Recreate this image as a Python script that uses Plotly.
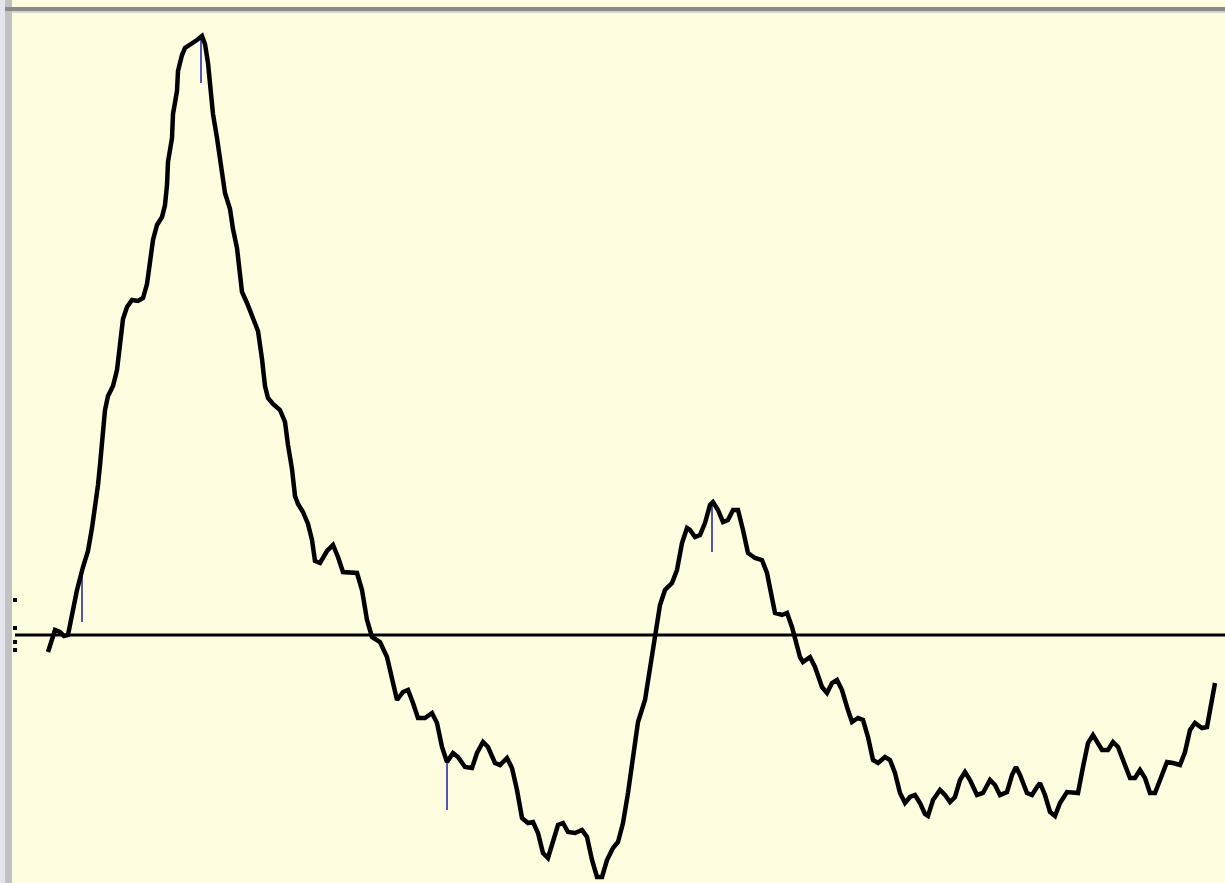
import plotly.graph_objects as go

# Horizontal sample position and signal level (zero = reference line)
x_pos = [48,52,55,60,64,68,73,77,83,88,92,95,98,100,102,105,108,113,117,120,123,127,132,138,143,147,150,153,157,162,165,167,168,172,173,177,178,182,185,192,197,202,205,208,210,213,217,220,222,225,230,233,237,240,242,247,253,258,262,265,268,273,280,285,288,292,295,298,303,308,312,315,320,327,333,338,343,350,357,362,367,372,380,387,392,397,403,408,413,418,425,432,437,442,447,453,458,465,472,477,483,488,495,500,507,512,517,522,528,533,538,543,548,553,558,563,568,575,582,587,592,597,602,607,613,618,623,628,633,638,645,650,655,660,665,672,677,682,687,690,695,700,705,710,713,718,723,728,733,738,743,748,755,762,767,772,775,782,787,792,795,800,803,810,815,822,827,832,837,842,847,852,858,863,868,873,878,885,890,895,900,905,910,915,920,925,928,933,940,945,950,955,960,965,970,977,983,990,995,1000,1007,1012,1016,1020,1027,1032,1037,1040,1045,1050,1055,1060,1067,1073,1078,1083,1088,1093,1098,1102,1108,1113,1118,1125,1130,1135,1140,1145,1150,1155,1162,1167,1173,1180,1185,1190,1195,1202,1207,1210,1213,1215]
y_pix = [652,640,630,632,636,635,610,590,567,551,528,508,485,465,437,410,396,386,370,343,319,307,300,301,298,284,260,240,225,217,205,185,162,138,114,91,71,55,48,44,40,36,44,63,87,114,138,162,177,193,209,229,248,272,292,303,319,331,359,386,398,404,410,422,445,469,496,504,512,524,540,561,563,551,545,557,572,572,573,590,620,637,642,657,680,700,692,690,703,718,718,713,723,747,762,753,757,767,768,753,742,747,763,765,758,768,790,818,823,822,833,853,858,840,825,823,832,833,830,837,860,877,877,860,848,842,823,793,753,722,700,670,640,605,590,583,570,543,528,530,537,535,523,505,502,510,522,520,510,510,530,553,558,560,573,600,613,615,613,627,640,657,662,657,667,687,693,683,680,690,707,722,718,720,737,760,763,757,760,773,793,803,797,795,803,814,816,800,790,795,802,797,780,772,780,795,793,780,785,795,792,775,767,775,793,795,787,783,795,812,816,803,792,793,793,767,743,735,743,750,750,742,747,765,778,778,770,778,793,793,773,762,763,765,752,730,723,728,727,710,693,683]
ZERO_PIX = 635
signal = [ZERO_PIX - v for v in y_pix]

# Event markers (blue drop lines): position, top level, bottom level
marker_x = [82, 201, 447, 712]
marker_top = [ZERO_PIX - v for v in [575, 38, 762, 503]]
marker_bottom = [ZERO_PIX - v for v in [622, 83, 810, 552]]

# Small level ticks on the left edge
tick_levels = [ZERO_PIX - v for v in [600, 628, 642, 650]]

W, H = 1225, 883
fig = go.Figure()

mx, my = [], []
for x, t, b in zip(marker_x, marker_top, marker_bottom):
    mx += [x, x, None]
    my += [t, b, None]
fig.add_trace(go.Scatter(x=mx, y=my, mode="lines",
                         line=dict(color="#2A2AA8", width=1.6),
                         hoverinfo="skip", showlegend=False))

fig.add_trace(go.Scatter(x=x_pos, y=signal, mode="lines",
                         line=dict(color="#000000", width=4.5),
                         showlegend=False))

fig.add_trace(go.Scatter(x=[15] * len(tick_levels), y=tick_levels, mode="markers",
                         marker=dict(symbol="square", size=4, color="#000000"),
                         hoverinfo="skip", showlegend=False))

shapes = [
    # zero reference line
    dict(type="line", xref="x", yref="y", x0=15, x1=W, y0=0, y1=0,
         line=dict(color="#000000", width=3), layer="below"),
    # left frame
    dict(type="rect", xref="paper", yref="paper", x0=0, x1=5 / W, y0=0, y1=1,
         fillcolor="#E4E4EC", line=dict(width=0)),
    dict(type="rect", xref="paper", yref="paper", x0=5 / W, x1=12 / W, y0=0, y1=1,
         fillcolor="#C2C2C2", line=dict(width=0)),
    # top frame
    dict(type="rect", xref="paper", yref="paper", x0=5 / W, x1=1, y0=1 - 11 / H, y1=1 - 7 / H,
         fillcolor="#8A8A8A", line=dict(width=0)),
    dict(type="rect", xref="paper", yref="paper", x0=12 / W, x1=1, y0=1 - 13 / H, y1=1 - 11 / H,
         fillcolor="#D6D6CC", line=dict(width=0)),
]

fig.update_layout(
    width=W, height=H, autosize=False,
    margin=dict(l=0, r=0, t=0, b=0, pad=0),
    paper_bgcolor="#FFFDE0", plot_bgcolor="#FFFDE0",
    xaxis=dict(range=[0, W], visible=False, fixedrange=True),
    yaxis=dict(range=[ZERO_PIX - H, ZERO_PIX], visible=False, fixedrange=True),
    shapes=shapes,
    showlegend=False,
)

fig.write_html("out.html", config={"displayModeBar": False},
               post_script="document.body.style.margin='0';document.body.style.padding='0';document.body.style.overflow='hidden';document.body.style.background='#FFFDE0';")
